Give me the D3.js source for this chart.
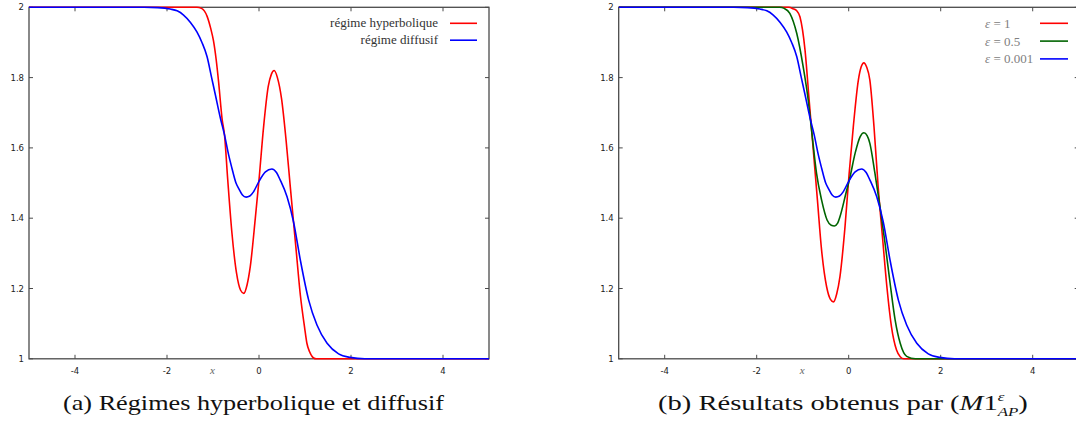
<!DOCTYPE html>
<html><head><meta charset="utf-8">
<script src="https://cdn.jsdelivr.net/npm/d3@7"></script>
<style>body{margin:0;background:#fff} svg{display:block}</style>
</head><body>
<svg id="c" width="1076" height="424"></svg>
<script>
// ---- data ----
const xTicks = [-4, -2, 0, 2, 4];
const yTicks = [1, 1.2, 1.4, 1.6, 1.8, 2];
const xDomain = [-5, 5];
const yDomain = [1, 2];

// (a) régime hyperbolique
const hypX = [-5, -1.35, -1.25, -1.13, -1.05, -0.99, -0.93, -0.88, -0.80, -0.75, -0.68, -0.59, -0.49, -0.40, -0.33, -0.26, -0.19, -0.08, 0.0, 0.10, 0.20, 0.27, 0.33, 0.40, 0.49, 0.59, 0.68, 0.75, 0.80, 0.90, 0.99, 1.04, 1.10, 1.18, 1.25, 5];
const hypY = [2, 2, 1.997, 1.975, 1.94, 1.905, 1.85, 1.79, 1.68, 1.637, 1.51, 1.36, 1.245, 1.195, 1.186, 1.21, 1.262, 1.40, 1.509, 1.66, 1.774, 1.81, 1.82, 1.80, 1.74, 1.62, 1.49, 1.39, 1.32, 1.18, 1.09, 1.045, 1.02, 1.003, 1.0, 1];
// (a) régime diffusif
const difX = [-5, -2.5, -2.2, -1.93, -1.78, -1.64, -1.49, -1.35, -1.24, -1.13, -1.03, -0.95, -0.84, -0.75, -0.66, -0.59, -0.50, -0.44, -0.36, -0.28, -0.20, -0.12, 0.0, 0.14, 0.28, 0.38, 0.46, 0.61, 0.75, 0.90, 1.08, 1.26, 1.48, 1.73, 1.98, 2.3, 5];
const difY = [2, 2, 1.999, 1.995, 1.99, 1.978, 1.957, 1.93, 1.90, 1.86, 1.80, 1.752, 1.685, 1.637, 1.58, 1.543, 1.50, 1.484, 1.466, 1.46, 1.463, 1.475, 1.505, 1.532, 1.54, 1.53, 1.509, 1.461, 1.39, 1.28, 1.167, 1.096, 1.044, 1.014, 1.004, 1.0, 1];

// (b) epsilon = 1
const e1X = [-5, -1.3, -1.21, -1.13, -1.06, -0.95, -0.86, -0.77, -0.68, -0.59, -0.48, -0.40, -0.33, -0.26, -0.19, -0.08, 0.01, 0.10, 0.21, 0.27, 0.33, 0.39, 0.46, 0.55, 0.64, 0.74, 0.83, 0.93, 1.04, 1.12, 1.2, 5];
const e1Y = [2, 2, 1.996, 1.99, 1.973, 1.879, 1.736, 1.594, 1.452, 1.31, 1.205, 1.17, 1.162, 1.185, 1.234, 1.376, 1.528, 1.66, 1.793, 1.83, 1.842, 1.83, 1.793, 1.66, 1.49, 1.338, 1.205, 1.091, 1.025, 1.006, 1.0, 1];
// (b) epsilon = 0.5
const e05X = [-5, -1.5, -1.40, -1.28, -1.13, -0.99, -0.88, -0.80, -0.70, -0.59, -0.47, -0.38, -0.31, -0.24, -0.19, -0.06, 0.03, 0.14, 0.25, 0.33, 0.40, 0.46, 0.57, 0.68, 0.79, 0.90, 1.01, 1.12, 1.26, 1.45, 5];
const e05Y = [2, 2, 1.997, 1.983, 1.926, 1.831, 1.736, 1.642, 1.528, 1.452, 1.395, 1.38, 1.378, 1.386, 1.404, 1.471, 1.518, 1.585, 1.632, 1.643, 1.635, 1.613, 1.528, 1.433, 1.329, 1.215, 1.11, 1.044, 1.007, 1.0, 1];
// (b) epsilon = 0.001
const e0001X = [-5, -2.5, -2.2, -1.93, -1.78, -1.64, -1.49, -1.35, -1.24, -1.13, -1.03, -0.95, -0.84, -0.75, -0.66, -0.59, -0.50, -0.44, -0.36, -0.28, -0.20, -0.12, 0.0, 0.14, 0.28, 0.38, 0.46, 0.61, 0.75, 0.90, 1.08, 1.26, 1.48, 1.73, 1.98, 2.3, 5];
const e0001Y = [2, 2, 1.999, 1.995, 1.99, 1.978, 1.957, 1.93, 1.90, 1.86, 1.80, 1.752, 1.685, 1.637, 1.58, 1.543, 1.50, 1.484, 1.466, 1.46, 1.463, 1.475, 1.505, 1.532, 1.54, 1.53, 1.509, 1.461, 1.39, 1.28, 1.167, 1.096, 1.044, 1.014, 1.004, 1.0, 1];

const legendA = ["régime hyperbolique", "régime diffusif"];
const legendB = ["1", "0.5", "0.001"];
const captionA = "(a) Régimes hyperbolique et diffusif";

// ---- drawing ----
const svg = d3.select("#c");
const TOP = 7.3, BOT = 358.8;
const y = d3.scaleLinear().domain(yDomain).range([BOT, TOP]);
const zip = (xs, ys) => xs.map((v, i) => [v, ys[i]]);

function panel(id, left, right, series) {
  const x = d3.scaleLinear().domain(xDomain).range([left, right]);
  const g = svg.append("g");
  const cp = g.append("clipPath").attr("id", "clip" + id);
  cp.append("rect").attr("x", left).attr("y", TOP - 2).attr("width", right - left).attr("height", BOT - TOP + 4);
  g.append("rect").attr("x", left).attr("y", TOP).attr("width", right - left).attr("height", BOT - TOP)
    .attr("fill", "none").attr("stroke", "#4a4a4a").attr("stroke-width", 1.3);
  const tk = 4;
  xTicks.forEach(t => {
    g.append("line").attr("x1", x(t)).attr("x2", x(t)).attr("y1", BOT).attr("y2", BOT - tk).attr("stroke", "#4a4a4a");
    g.append("line").attr("x1", x(t)).attr("x2", x(t)).attr("y1", TOP).attr("y2", TOP + tk).attr("stroke", "#4a4a4a");
    g.append("text").attr("x", x(t)).attr("y", BOT + 15).attr("text-anchor", "middle")
      .attr("font-family", "DejaVu Sans").attr("font-size", 8.5).attr("fill", "#222").text(String(t));
  });
  yTicks.forEach(t => {
    g.append("line").attr("x1", left).attr("x2", left + tk).attr("y1", y(t)).attr("y2", y(t)).attr("stroke", "#4a4a4a");
    g.append("line").attr("x1", right).attr("x2", right - tk).attr("y1", y(t)).attr("y2", y(t)).attr("stroke", "#4a4a4a");
    g.append("text").attr("x", left - 5).attr("y", y(t) + 3).attr("text-anchor", "end")
      .attr("font-family", "DejaVu Sans").attr("font-size", 8.5).attr("fill", "#222").text(String(t));
  });
  g.append("text").attr("x", x(-1.01)).attr("y", BOT + 15).attr("text-anchor", "middle")
    .attr("font-family", "Liberation Serif").attr("font-style", "italic").attr("font-size", 11).attr("fill", "#666").text("x");
  const line = d3.line().x(d => x(d[0])).y(d => y(d[1])).curve(d3.curveMonotoneX);
  series.forEach(s => {
    g.append("path").attr("d", line(s.data)).attr("fill", "none").attr("stroke", s.color)
      .attr("stroke-width", 1.6).attr("clip-path", `url(#clip${id})`);
  });
  return {x, g};
}

panel("a", 29, 489, [
  {data: zip(hypX, hypY), color: "#ff0000"},
  {data: zip(difX, difY), color: "#0000ff"}
]);
panel("b", 618.7, 1078.7, [
  {data: zip(e1X, e1Y), color: "#ff0000"},
  {data: zip(e05X, e05Y), color: "#006400"},
  {data: zip(e0001X, e0001Y), color: "#0000ff"}
]);

// legend A
const colA = ["#ff0000", "#0000ff"];
legendA.forEach((t, i) => {
  const yy = 23.3 + i * 16.9;
  svg.append("text").attr("x", 438).attr("y", yy + 4).attr("text-anchor", "end")
    .attr("font-family", "Liberation Serif").attr("font-size", 13).attr("fill", "#333").text(t);
  svg.append("line").attr("x1", 450).attr("x2", 477).attr("y1", yy).attr("y2", yy)
    .attr("stroke", colA[i]).attr("stroke-width", 1.6);
});
// legend B
const colB = ["#ff0000", "#006400", "#0000ff"];
legendB.forEach((t, i) => {
  const yy = 23.3 + i * 17.8;
  const tx = svg.append("text").attr("x", 985).attr("y", yy + 4.5)
    .attr("font-family", "Liberation Serif").attr("font-size", 13).attr("fill", "#808080");
  tx.append("tspan").attr("font-style", "italic").text("ε");
  tx.append("tspan").text(" = " + t);
  svg.append("line").attr("x1", 1040).attr("x2", 1068).attr("y1", yy).attr("y2", yy)
    .attr("stroke", colB[i]).attr("stroke-width", 1.6);
});

// captions
function fitGroup(gr, x0, x1) {
  const bb = gr.node().getBBox();
  const sx = (x1 - x0) / bb.width;
  gr.attr("transform", `translate(${x0 - bb.x * sx},0) scale(${sx},1)`);
}
const capA = svg.append("g");
capA.append("text").attr("x", 0).attr("y", 410).attr("font-family", "Liberation Serif").attr("font-size", 22)
  .attr("fill", "#111").text(captionA);
fitGroup(capA, 63, 445);

const capB = svg.append("g");
const tb = capB.append("text").attr("x", 0).attr("y", 410).attr("font-family", "Liberation Serif").attr("font-size", 22).attr("fill", "#111");
tb.append("tspan").text("(b) Résultats obtenus par (");
tb.append("tspan").attr("font-style", "italic").text("M");
tb.append("tspan").text("1");
const eps = tb.append("tspan").attr("font-style", "italic").attr("font-size", 13).attr("dy", -9).text("ε");
const epsW = eps.node().getComputedTextLength();
tb.append("tspan").attr("font-style", "italic").attr("font-size", 13).attr("dx", -epsW).attr("dy", 15).text("AP");
tb.append("tspan").attr("dy", -6).text(")");
fitGroup(capB, 658, 1028);
</script>
</body></html>
